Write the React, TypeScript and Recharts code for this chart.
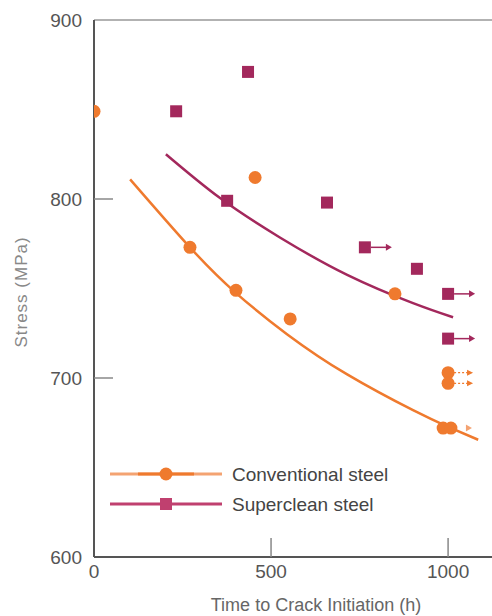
import React from "react";
import { ComposedChart, Line, Scatter, XAxis, YAxis, ReferenceLine, Legend } from "recharts";

// Conventional steel (orange circles)
const convX = [0, 271, 401, 455, 554, 850, 1000, 1000, 986, 1008];
const convY = [849, 773, 749, 812, 733, 747, 703, 697, 672, 672];
const convRunout = ["", "", "", "", "", "", "dotted", "dotted", "", "head"];

// Superclean steel (magenta squares)
const superX = [232, 435, 376, 658, 765, 912, 1000, 1000];
const superY = [849, 871, 799, 798, 773, 761, 747, 722];
const superRunout = ["", "", "", "", "solid", "", "solid", "solid"];

// Fitted curves
const convCurveX = [102, 271, 398, 545, 715, 901, 997, 1085];
const convCurveY = [811, 773, 748, 724.5, 702, 682, 673, 665.5];
const superCurveX = [203, 356, 525, 715, 901, 1014];
const superCurveY = [825, 800.5, 778.5, 757.6, 741.8, 733.9];

const xTicks = [0, 500, 1000];
const yTicks = [600, 700, 800, 900];
const seriesNames = ["Conventional steel", "Superclean steel"];

const ORANGE = "#ef7a2e";
const ORANGE_LIGHT = "#f4a372";
const MAGENTA = "#a3285c";
const MAGENTA_LIGHT = "#c0406f";
const FONT = "'Liberation Sans', Arial, sans-serif";

const convPts = convX.map((x, i) => ({ x, y: convY[i], runout: convRunout[i] }));
const superPts = superX.map((x, i) => ({ x, y: superY[i], runout: superRunout[i] }));
const convCurve = convCurveX.map((x, i) => ({ x, y: convCurveY[i] }));
const superCurve = superCurveX.map((x, i) => ({ x, y: superCurveY[i] }));

const CircleShape = (props: any) => {
  const { cx, cy, payload } = props;
  const r = payload.runout;
  return (
    <g>
      {r === "dotted" && (
        <g>
          <line x1={cx + 6} x2={cx + 20} y1={cy} y2={cy} stroke={ORANGE} strokeWidth={1.2} strokeDasharray="2 2" />
          <polygon points={`${cx + 19},${cy - 3} ${cx + 25},${cy} ${cx + 19},${cy + 3}`} fill={ORANGE} />
        </g>
      )}
      {r === "head" && (
        <polygon points={`${cx + 15},${cy - 3.5} ${cx + 21},${cy} ${cx + 15},${cy + 3.5}`} fill={ORANGE_LIGHT} />
      )}
      <circle cx={cx} cy={cy} r={6.5} fill={ORANGE} />
    </g>
  );
};

const SquareShape = (props: any) => {
  const { cx, cy, payload } = props;
  return (
    <g>
      {payload.runout === "solid" && (
        <g>
          <line x1={cx + 6} x2={cx + 22} y1={cy} y2={cy} stroke={MAGENTA} strokeWidth={1.5} />
          <polygon points={`${cx + 21},${cy - 3.5} ${cx + 27},${cy} ${cx + 21},${cy + 3.5}`} fill={MAGENTA} />
        </g>
      )}
      <rect x={cx - 6} y={cy - 6} width={12} height={12} fill={MAGENTA} />
    </g>
  );
};

const YTick = (props: any) => {
  const { x, y, payload } = props;
  const v = payload.value;
  return (
    <g>
      <text x={x} y={y} dy="0.36em" textAnchor="end" fontSize={19} fill="#555" fontFamily={FONT}>
        {v}
      </text>
      {(v === 700 || v === 800) && (
        <line x1={x + 12} x2={x + 31} y1={y} y2={y} stroke="#888" strokeWidth={1.5} />
      )}
    </g>
  );
};

const XTick = (props: any) => {
  const { x, y, payload } = props;
  const v = payload.value;
  return (
    <g>
      <text x={x} y={y} dy="0.71em" textAnchor="middle" fontSize={19} fill="#555" fontFamily={FONT}>
        {v}
      </text>
      {(v === 500 || v === 1000) && (
        <line x1={x} x2={x} y1={y - 8} y2={y - 27} stroke="#888" strokeWidth={1.5} />
      )}
    </g>
  );
};

const LegendContent = () => (
  <svg width={300} height={60} style={{ display: "block" }}>
    <line x1={0} x2={112} y1={14} y2={14} stroke={ORANGE_LIGHT} strokeWidth={3} />
    <line x1={28} x2={84} y1={14} y2={14} stroke={ORANGE} strokeWidth={3} />
    <circle cx={56} cy={14} r={6.5} fill={ORANGE} />
    <text x={122} y={14} dy="0.36em" fontSize={19} fill="#444" fontFamily={FONT}>
      {seriesNames[0]}
    </text>
    <line x1={0} x2={112} y1={44} y2={44} stroke={MAGENTA_LIGHT} strokeWidth={3} />
    <rect x={50} y={38} width={12} height={12} fill={MAGENTA_LIGHT} />
    <text x={122} y={44} dy="0.36em" fontSize={19} fill="#444" fontFamily={FONT}>
      {seriesNames[1]}
    </text>
  </svg>
);

export default function App() {
  return (
    <div style={{ position: "absolute", left: 0, top: 0, background: "#fff" }}>
      <ComposedChart width={492} height={616} margin={{ top: 20, right: 0, bottom: 29, left: 34 }}>
        <XAxis
          type="number"
          dataKey="x"
          domain={[0, 1124]}
          ticks={xTicks}
          tickSize={0}
          tickLine={false}
          tickMargin={8}
          height={30}
          allowDataOverflow
          axisLine={{ stroke: "#555", strokeWidth: 2 }}
          tick={<XTick />}
          label={{
            content: () => (
              <text x={316} y={605} dy="0.36em" textAnchor="middle" fontSize={18} fill="#666" fontFamily={FONT}>
                Time to Crack Initiation (h)
              </text>
            ),
          }}
        />
        <YAxis
          type="number"
          dataKey="y"
          domain={[600, 900]}
          ticks={yTicks}
          tickSize={0}
          tickLine={false}
          tickMargin={12}
          width={60}
          allowDataOverflow
          axisLine={{ stroke: "#555", strokeWidth: 2 }}
          tick={<YTick />}
          label={{
            content: () => (
              <text
                x={21}
                y={292}
                dy="0.36em"
                textAnchor="middle"
                fontSize={17}
                fill="#888"
                fontFamily={FONT}
                letterSpacing={1}
                transform="rotate(-90 21 292)"
              >
                Stress (MPa)
              </text>
            ),
          }}
        />
        <ReferenceLine y={900} stroke="#999" strokeWidth={1.5} />
        <Line
          data={convCurve}
          dataKey="y"
          type="natural"
          stroke={ORANGE}
          strokeWidth={2.5}
          dot={false}
          activeDot={false}
          isAnimationActive={false}
          legendType="none"
        />
        <Line
          data={superCurve}
          dataKey="y"
          type="natural"
          stroke={MAGENTA}
          strokeWidth={2.5}
          dot={false}
          activeDot={false}
          isAnimationActive={false}
          legendType="none"
        />
        <Scatter data={convPts} dataKey="y" shape={<CircleShape />} isAnimationActive={false} />
        <Scatter data={superPts} dataKey="y" shape={<SquareShape />} isAnimationActive={false} />
        <Legend
          layout="vertical"
          align="center"
          verticalAlign="middle"
          content={<LegendContent />}
          wrapperStyle={{ position: "absolute", left: 110, top: 460, width: 300, height: 60 }}
        />
      </ComposedChart>
    </div>
  );
}
